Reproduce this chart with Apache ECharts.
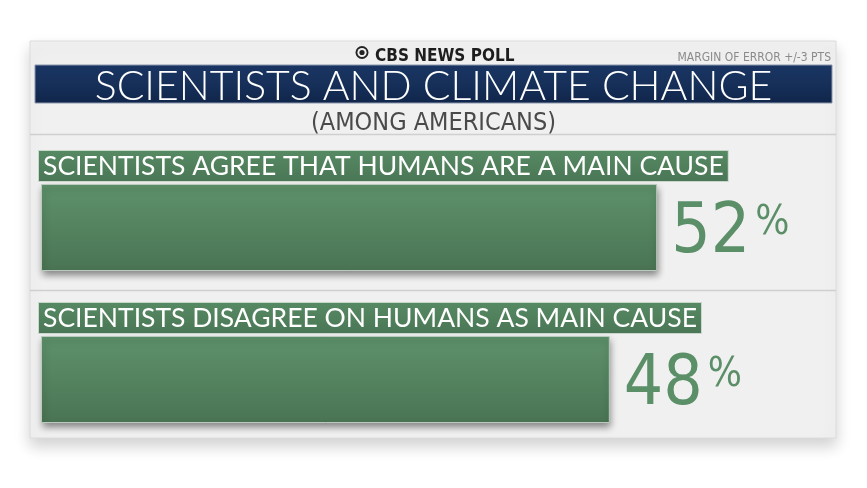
<!DOCTYPE html>
<html><head><meta charset="utf-8">
<script src="https://cdn.jsdelivr.net/npm/echarts@6/dist/echarts.min.js"></script>
<style>html,body{margin:0;padding:0;background:#fff}#c{width:867px;height:488px}</style>
</head><body><div id="c"></div>
<script>
const categories = ['SCIENTISTS AGREE THAT HUMANS ARE A MAIN CAUSE', 'SCIENTISTS DISAGREE ON HUMANS AS MAIN CAUSE'];
const values = [52, 48];
const titleText = 'SCIENTISTS AND CLIMATE CHANGE';
const subtitleText = '(AMONG AMERICANS)';
const sourceText = 'CBS NEWS POLL';
const marginText = 'MARGIN OF ERROR +/-3 PTS';

const narrow = "'DejaVu Sans Condensed', 'Roboto', sans-serif";
const chart = echarts.init(document.getElementById('c'));
const green = new echarts.graphic.LinearGradient(0,0,0,1,[{offset:0,color:'#5e926b'},{offset:1,color:'#4a7454'}]);
chart.setOption({
  animation:false,
  backgroundColor:'#fff',
  graphic:[
    {type:'rect',shape:{x:30,y:41,width:806,height:397},style:{fill:'#f0f0f0',stroke:'#dcdcdc',lineWidth:1,shadowBlur:14,shadowOffsetY:8,shadowColor:'rgba(0,0,0,0.18)'},z:-10},
    {type:'rect',shape:{x:35,y:65,width:797,height:38},style:{fill:new echarts.graphic.LinearGradient(0,0,0,1,[{offset:0,color:'#1a3563'},{offset:0.5,color:'#16305a'},{offset:1,color:'#10254a'}]),stroke:'#8a97ad',lineWidth:1},z:-5},
    {type:'line',shape:{x1:30,y1:134.5,x2:836,y2:134.5},style:{stroke:'#cfcfcf',lineWidth:1.5},z:-5},
    {type:'line',shape:{x1:30,y1:290.5,x2:836,y2:290.5},style:{stroke:'#cfcfcf',lineWidth:1.5},z:-5},
    {type:'circle',shape:{cx:362,cy:52.5,r:6.5},style:{fill:'#222'},z:5},
    {type:'circle',shape:{cx:362,cy:52.5,r:4.6},style:{fill:'#f0f0f0'},z:6},
    {type:'circle',shape:{cx:362,cy:52.5,r:2.6},style:{fill:'#222'},z:7}
  ],
  title:[
    {text:sourceText,left:370,top:43,textStyle:{fontFamily:narrow,fontSize:17,fontWeight:'bold',color:'#1d1d1d'}},
    {text:marginText,right:31,top:47,textStyle:{fontFamily:narrow,fontSize:12,fontWeight:'normal',color:'#8a8a8a'}},
    {text:titleText,left:'center',top:61,textStyle:{fontFamily:'Lato',fontSize:41,fontWeight:300,color:'#fff'}},
    {text:subtitleText,left:'center',top:106,textStyle:{fontFamily:narrow,fontSize:25,fontWeight:'normal',color:'#4a4a4a'}}
  ],
  grid:{left:41,top:151.5,width:65*11.85,height:304,containLabel:false},
  xAxis:{type:'value',min:0,max:65,show:false},
  yAxis:{type:'category',data:categories,inverse:true,show:false},
  series:[{
    type:'bar',
    data:values,
    barWidth:87,
    itemStyle:{color:green,borderColor:'#b9cbbd',borderWidth:1,shadowBlur:7,shadowOffsetY:4,shadowOffsetX:1,shadowColor:'rgba(0,0,0,0.45)'},
    label:{show:true,position:'right',distance:14,offset:[0,7],
      formatter:p=>'{n|'+p.value+'}{p|%}',
      rich:{n:{fontFamily:narrow,fontSize:69,color:'#5b8f68',verticalAlign:'bottom'},
            p:{fontFamily:narrow,fontSize:40,color:'#5b8f68',verticalAlign:'top',padding:[4,0,0,5]}}},
  },{
    type:'bar',data:values,barWidth:87,barGap:'-100%',silent:true,
    itemStyle:{color:'transparent'},
    label:{show:true,position:[-2,-33],
      formatter:p=>categories[p.dataIndex],
      fontFamily:'Lato',fontSize:26.5,color:'#fff',lineHeight:29,
      backgroundColor:new echarts.graphic.LinearGradient(0,0,0,1,[{offset:0,color:'#568a63'},{offset:1,color:'#4a7655'}]),
      borderColor:'#c9d6cc',borderWidth:1,padding:[1,4,0,4]}
  }]
});
</script></body></html>
